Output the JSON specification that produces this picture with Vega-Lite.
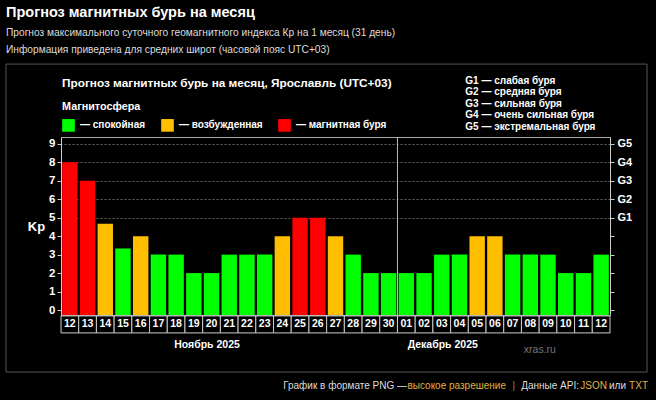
{
  "$schema": "https://vega.github.io/schema/vega-lite/v6.json",
  "width": 549,
  "height": 178,
  "autosize": {"type": "none"},
  "padding": {"left": 61, "top": 137, "right": 46, "bottom": 85},
  "background": "#000000",
  "config": {
    "font": "Liberation Sans",
    "view": {"stroke": "#aaaaaa", "strokeWidth": 1},
    "text": {"font": "Liberation Sans"}
  },
  "title": {
    "text": "Прогноз магнитных бурь на месяц",
    "subtitle": ["Прогноз максимального суточного геомагнитного индекса Кр на 1 месяц (31 день)", "Информация приведена для средних широт (часовой пояс UTC+03)"],
    "anchor": "start",
    "frame": "group",
    "orient": "top",
    "offset": 7,
    "dx": -55,
    "font": "Liberation Sans",
    "fontSize": 14.5,
    "fontWeight": "bold",
    "color": "#ffffff",
    "subtitleFont": "Liberation Sans",
    "subtitleFontSize": 10.2,
    "subtitleColor": "#dddddd",
    "subtitlePadding": 8,
    "subtitleLineHeight": 17
  },
  "data": {"values": [
    {"d": "11-12", "day": "12", "kp": 8, "state": "магнитная буря"},
    {"d": "11-13", "day": "13", "kp": 7, "state": "магнитная буря"},
    {"d": "11-14", "day": "14", "kp": 4.67, "state": "возбужденная"},
    {"d": "11-15", "day": "15", "kp": 3.33, "state": "спокойная"},
    {"d": "11-16", "day": "16", "kp": 4, "state": "возбужденная"},
    {"d": "11-17", "day": "17", "kp": 3, "state": "спокойная"},
    {"d": "11-18", "day": "18", "kp": 3, "state": "спокойная"},
    {"d": "11-19", "day": "19", "kp": 2, "state": "спокойная"},
    {"d": "11-20", "day": "20", "kp": 2, "state": "спокойная"},
    {"d": "11-21", "day": "21", "kp": 3, "state": "спокойная"},
    {"d": "11-22", "day": "22", "kp": 3, "state": "спокойная"},
    {"d": "11-23", "day": "23", "kp": 3, "state": "спокойная"},
    {"d": "11-24", "day": "24", "kp": 4, "state": "возбужденная"},
    {"d": "11-25", "day": "25", "kp": 5, "state": "магнитная буря"},
    {"d": "11-26", "day": "26", "kp": 5, "state": "магнитная буря"},
    {"d": "11-27", "day": "27", "kp": 4, "state": "возбужденная"},
    {"d": "11-28", "day": "28", "kp": 3, "state": "спокойная"},
    {"d": "11-29", "day": "29", "kp": 2, "state": "спокойная"},
    {"d": "11-30", "day": "30", "kp": 2, "state": "спокойная"},
    {"d": "12-01", "day": "01", "kp": 2, "state": "спокойная"},
    {"d": "12-02", "day": "02", "kp": 2, "state": "спокойная"},
    {"d": "12-03", "day": "03", "kp": 3, "state": "спокойная"},
    {"d": "12-04", "day": "04", "kp": 3, "state": "спокойная"},
    {"d": "12-05", "day": "05", "kp": 4, "state": "возбужденная"},
    {"d": "12-06", "day": "06", "kp": 4, "state": "возбужденная"},
    {"d": "12-07", "day": "07", "kp": 3, "state": "спокойная"},
    {"d": "12-08", "day": "08", "kp": 3, "state": "спокойная"},
    {"d": "12-09", "day": "09", "kp": 3, "state": "спокойная"},
    {"d": "12-10", "day": "10", "kp": 2, "state": "спокойная"},
    {"d": "12-11", "day": "11", "kp": 2, "state": "спокойная"},
    {"d": "12-12", "day": "12", "kp": 3, "state": "спокойная"}
  ]},
  "layer": [
    {
      "data": {"values": [{"panel": 1}]},
      "mark": {"type": "rect", "fill": "transparent", "stroke": "#555555", "strokeWidth": 1, "xOffset": -55, "x2Offset": 37},
      "encoding": {
        "x": {"datum": "11-12", "bandPosition": 0, "type": "ordinal", "scale": {"domain": ["11-12","11-13","11-14","11-15","11-16","11-17","11-18","11-19","11-20","11-21","11-22","11-23","11-24","11-25","11-26","11-27","11-28","11-29","11-30","12-01","12-02","12-03","12-04","12-05","12-06","12-07","12-08","12-09","12-10","12-11","12-12"], "paddingInner": 0, "paddingOuter": 0}, "axis": null},
        "x2": {"datum": "12-12", "bandPosition": 1},
        "y": {"datum": 13.32, "type": "quantitative", "scale": {"domain": [-0.27, 9.37], "nice": false, "zero": false}, "axis": null},
        "y2": {"datum": -3.36}
      }
    },
    {
      "mark": {"type": "bar", "width": {"band": 0.87}},
      "encoding": {
        "x": {"field": "d", "type": "ordinal", "sort": null, "scale": {"domain": ["11-12","11-13","11-14","11-15","11-16","11-17","11-18","11-19","11-20","11-21","11-22","11-23","11-24","11-25","11-26","11-27","11-28","11-29","11-30","12-01","12-02","12-03","12-04","12-05","12-06","12-07","12-08","12-09","12-10","12-11","12-12"], "paddingInner": 0, "paddingOuter": 0}, "axis": null},
        "y": {"field": "kp", "type": "quantitative", "scale": {"domain": [-0.27, 9.37], "nice": false, "zero": false},
          "axis": {"orient": "left", "values": [0,1,2,3,4,5,6,7,8,9], "title": "Kp", "titleAngle": 0, "titleAlign": "right", "titleBaseline": "middle", "titleColor": "#ffffff", "titleFontSize": 13, "titleFontWeight": "bold", "titleFont": "Liberation Sans", "titlePadding": 4, "labelColor": "#ffffff", "labelFontSize": 11.5, "labelFontWeight": "bold", "labelFont": "Liberation Sans", "labelPadding": 2, "labelFlush": false, "labelOverlap": false, "tickSize": 4, "tickColor": "#cccccc", "domainColor": "#cccccc", "grid": false}},
        "y2": {"datum": -0.27},
        "color": {"field": "state", "type": "nominal",
          "scale": {"domain": ["спокойная", "возбужденная", "магнитная буря"], "range": ["#00ff00", "#ffbf00", "#ff0000"]},
          "legend": {"orient": "none", "legendX": 1, "legendY": -36, "direction": "horizontal", "title": "Магнитосфера", "titleColor": "#ffffff", "titleFontSize": 10.8, "titleFontWeight": "bold", "titleFont": "Liberation Sans", "titlePadding": 7, "titleAnchor": "start", "labelColor": "#ffffff", "labelFontSize": 10, "labelFontWeight": "bold", "labelFont": "Liberation Sans", "labelExpr": "'— ' + datum.label", "symbolType": "square", "symbolSize": 160, "symbolStrokeWidth": 0, "symbolOpacity": 1, "columnPadding": 15, "labelOffset": 5, "padding": 0}}
      }
    },
    {
      "mark": {"type": "rect", "fill": "#000000", "stroke": "#cccccc", "strokeWidth": 1},
      "encoding": {
        "x": {"field": "d", "type": "ordinal", "sort": null, "scale": {"domain": ["11-12","11-13","11-14","11-15","11-16","11-17","11-18","11-19","11-20","11-21","11-22","11-23","11-24","11-25","11-26","11-27","11-28","11-29","11-30","12-01","12-02","12-03","12-04","12-05","12-06","12-07","12-08","12-09","12-10","12-11","12-12"], "paddingInner": 0, "paddingOuter": 0}, "axis": null},
        "y": {"datum": -0.32, "type": "quantitative", "scale": {"domain": [-0.27, 9.37], "nice": false, "zero": false},
          "axis": {"orient": "right", "values": [0,1,2,3,4,5,6,7,8,9], "title": null, "labelExpr": "datum.value >= 5 ? 'G' + (datum.value - 4) : ''", "labelColor": "#ffffff", "labelFontSize": 11, "labelFontWeight": "bold", "labelFont": "Liberation Sans", "labelPadding": 3, "labelFlush": false, "labelOverlap": false, "tickSize": 4, "tickColor": "#cccccc", "domainColor": "#cccccc", "grid": true, "gridColor": "#666666", "gridDash": [2, 2], "gridOpacity": {"condition": {"test": "datum.value >= 5", "value": 1}, "value": 0}}},
        "y2": {"datum": -1.24}
      }
    },
    {
      "mark": {"type": "text", "color": "#ffffff", "fontSize": 10.5, "fontWeight": "bold", "baseline": "middle", "align": "center"},
      "encoding": {
        "x": {"field": "d", "type": "ordinal", "sort": null, "scale": {"domain": ["11-12","11-13","11-14","11-15","11-16","11-17","11-18","11-19","11-20","11-21","11-22","11-23","11-24","11-25","11-26","11-27","11-28","11-29","11-30","12-01","12-02","12-03","12-04","12-05","12-06","12-07","12-08","12-09","12-10","12-11","12-12"], "paddingInner": 0, "paddingOuter": 0}, "axis": null},
        "y": {"datum": -0.78, "type": "quantitative", "scale": {"domain": [-0.27, 9.37], "nice": false, "zero": false}, "axis": null},
        "text": {"field": "day"}
      }
    },
    {
      "data": {"values": [{"sep": 1}]},
      "mark": {"type": "rule", "color": "#bbbbbb", "strokeWidth": 1},
      "encoding": {
        "x": {"datum": "12-01", "bandPosition": 0, "type": "ordinal", "scale": {"domain": ["11-12","11-13","11-14","11-15","11-16","11-17","11-18","11-19","11-20","11-21","11-22","11-23","11-24","11-25","11-26","11-27","11-28","11-29","11-30","12-01","12-02","12-03","12-04","12-05","12-06","12-07","12-08","12-09","12-10","12-11","12-12"], "paddingInner": 0, "paddingOuter": 0}, "axis": null}
      }
    },
    {
      "data": {"values": [{"label": "Прогноз магнитных бурь на месяц, Ярославль (UTC+03)"}]},
      "mark": {"type": "text", "color": "#ffffff", "fontSize": 11.8, "fontWeight": "bold", "align": "left", "baseline": "middle", "dx": 1},
      "encoding": {
        "x": {"datum": "11-12", "bandPosition": 0, "type": "ordinal", "scale": {"domain": ["11-12","11-13","11-14","11-15","11-16","11-17","11-18","11-19","11-20","11-21","11-22","11-23","11-24","11-25","11-26","11-27","11-28","11-29","11-30","12-01","12-02","12-03","12-04","12-05","12-06","12-07","12-08","12-09","12-10","12-11","12-12"], "paddingInner": 0, "paddingOuter": 0}, "axis": null},
        "y": {"datum": 12.27, "type": "quantitative", "scale": {"domain": [-0.27, 9.37], "nice": false, "zero": false}, "axis": null},
        "text": {"field": "label"}
      }
    },
    {
      "data": {"values": [{"g": 1}]},
      "mark": {"type": "text", "text": ["G1 — слабая буря", "G2 — средняя буря", "G3 — сильная буря", "G4 — очень сильная буря", "G5 — экстремальная буря"], "color": "#ffffff", "fontSize": 10, "fontWeight": "bold", "align": "left", "baseline": "top", "lineHeight": 11.5, "dx": -3},
      "encoding": {
        "x": {"datum": "12-05", "bandPosition": 0, "type": "ordinal", "scale": {"domain": ["11-12","11-13","11-14","11-15","11-16","11-17","11-18","11-19","11-20","11-21","11-22","11-23","11-24","11-25","11-26","11-27","11-28","11-29","11-30","12-01","12-02","12-03","12-04","12-05","12-06","12-07","12-08","12-09","12-10","12-11","12-12"], "paddingInner": 0, "paddingOuter": 0}, "axis": null},
        "y": {"datum": 12.7, "type": "quantitative", "scale": {"domain": [-0.27, 9.37], "nice": false, "zero": false}, "axis": null}
      }
    },
    {
      "data": {"values": [{"m": "Ноябрь 2025"}]},
      "mark": {"type": "text", "color": "#ffffff", "fontSize": 10.5, "fontWeight": "bold", "align": "center", "baseline": "middle", "dx": -4.5},
      "encoding": {
        "x": {"datum": "11-20", "type": "ordinal", "scale": {"domain": ["11-12","11-13","11-14","11-15","11-16","11-17","11-18","11-19","11-20","11-21","11-22","11-23","11-24","11-25","11-26","11-27","11-28","11-29","11-30","12-01","12-02","12-03","12-04","12-05","12-06","12-07","12-08","12-09","12-10","12-11","12-12"], "paddingInner": 0, "paddingOuter": 0}, "axis": null},
        "y": {"datum": -1.89, "type": "quantitative", "scale": {"domain": [-0.27, 9.37], "nice": false, "zero": false}, "axis": null},
        "text": {"field": "m"}
      }
    },
    {
      "data": {"values": [{"m": "Декабрь 2025"}]},
      "mark": {"type": "text", "color": "#ffffff", "fontSize": 10.5, "fontWeight": "bold", "align": "center", "baseline": "middle", "dx": 1},
      "encoding": {
        "x": {"datum": "12-03", "type": "ordinal", "scale": {"domain": ["11-12","11-13","11-14","11-15","11-16","11-17","11-18","11-19","11-20","11-21","11-22","11-23","11-24","11-25","11-26","11-27","11-28","11-29","11-30","12-01","12-02","12-03","12-04","12-05","12-06","12-07","12-08","12-09","12-10","12-11","12-12"], "paddingInner": 0, "paddingOuter": 0}, "axis": null},
        "y": {"datum": -1.89, "type": "quantitative", "scale": {"domain": [-0.27, 9.37], "nice": false, "zero": false}, "axis": null},
        "text": {"field": "m"}
      }
    },
    {
      "data": {"values": [{"w": "xras.ru"}]},
      "mark": {"type": "text", "color": "#777777", "fontSize": 10.5, "align": "center", "baseline": "middle", "dx": 9.6},
      "encoding": {
        "x": {"datum": "12-08", "type": "ordinal", "scale": {"domain": ["11-12","11-13","11-14","11-15","11-16","11-17","11-18","11-19","11-20","11-21","11-22","11-23","11-24","11-25","11-26","11-27","11-28","11-29","11-30","12-01","12-02","12-03","12-04","12-05","12-06","12-07","12-08","12-09","12-10","12-11","12-12"], "paddingInner": 0, "paddingOuter": 0}, "axis": null},
        "y": {"datum": -2.17, "type": "quantitative", "scale": {"domain": [-0.27, 9.37], "nice": false, "zero": false}, "axis": null},
        "text": {"field": "w"}
      }
    },
    {
      "data": {"values": [
        {"piece": "График в формате PNG —", "kind": "plain", "pos": 0},
        {"piece": "высокое разрешение", "kind": "link", "pos": 1},
        {"piece": "|", "kind": "sep", "pos": 2},
        {"piece": "Данные API:", "kind": "plain", "pos": 3},
        {"piece": "JSON", "kind": "link", "pos": 4},
        {"piece": "или", "kind": "plain", "pos": 5},
        {"piece": "TXT", "kind": "link", "pos": 6}
      ]},
      "mark": {"type": "text", "fontSize": 10, "align": "right", "baseline": "middle",
        "dx": {"expr": "[346, 445, 454, 518, 546, 565, 587][datum.pos]"},
        "fill": {"expr": "datum.kind == 'link' ? '#e0b040' : datum.kind == 'sep' ? '#888888' : '#dddddd'"}},
      "encoding": {
        "x": {"datum": "11-12", "bandPosition": 0, "type": "ordinal", "scale": {"domain": ["11-12","11-13","11-14","11-15","11-16","11-17","11-18","11-19","11-20","11-21","11-22","11-23","11-24","11-25","11-26","11-27","11-28","11-29","11-30","12-01","12-02","12-03","12-04","12-05","12-06","12-07","12-08","12-09","12-10","12-11","12-12"], "paddingInner": 0, "paddingOuter": 0}, "axis": null},
        "y": {"datum": -4.115, "type": "quantitative", "scale": {"domain": [-0.27, 9.37], "nice": false, "zero": false}, "axis": null},
        "text": {"field": "piece"}
      }
    }
  ],
  "resolve": {"axis": {"y": "independent"}}
}
